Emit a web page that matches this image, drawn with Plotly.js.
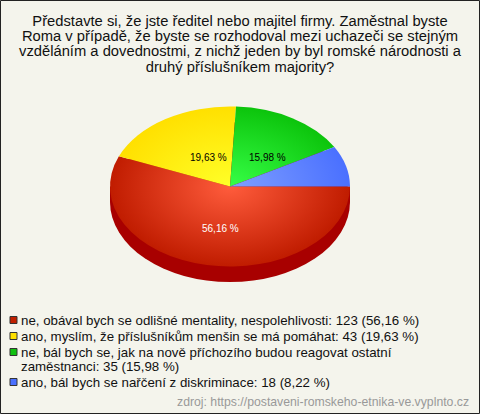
<!DOCTYPE html>
<html><head><meta charset="utf-8">
<script src="https://cdn.plot.ly/plotly-3.0.1.min.js"></script>
<style>html,body{margin:0;padding:0;background:#f4f4ec}#c{width:480px;height:414px}</style>
</head><body><div id="c"></div>
<script>
const titleText = "Představte si, že jste ředitel nebo majitel firmy. Zaměstnal byste<br>Roma v případě, že byste se rozhodoval mezi uchazeči se stejným<br>vzděláním a dovednostmi, z nichž jeden by byl romské národnosti a<br>druhý příslušníkem majority?";
const categories = ["ne, obával bych se odlišné mentality, nespolehlivosti","ano, myslím, že příslušníkům menšin se má pomáhat","ne, bál bych se, jak na nově příchozího budou reagovat ostatní<br>zaměstnanci","ano, bál bych se nařčení z diskriminace"];
const counts = [123,43,35,18];
const percents = ["56,16 %","19,63 %","15,98 %","8,22 %"];
const swatch = ["#c02000","#ffe000","#10c010","#4a70ff"];
const inner = ["#ff5c3c","#ffff28","#36ff46","#7f9fff"];
const outer = ["#c01c00","#ffe000","#0cc40c","#4a70ff"];
const source = "zdroj: https://postaveni-romskeho-etnika-ve.vyplnto.cz";

const W=480,H=414,FONT="Liberation Sans, Arial, sans-serif";
const cx=230,cy=186.5,rx=120,ry=80,depth=15.5;
const px=x=>x/W, py=y=>1-y/H;
const legendY=[312,328,344,374];
const pctPos=[[220,228,"#fff"],[208,158,"#000"],[267,158,"#000"]];
const shapes=[
 {type:"circle",xref:"paper",yref:"paper",layer:"below",x0:px(cx-rx),x1:px(cx+rx),y0:py(cy-ry+depth),y1:py(cy+ry+depth),fillcolor:"#a80000",line:{width:0}},
 {type:"rect",xref:"paper",yref:"paper",layer:"below",x0:px(cx-rx),x1:px(cx+rx),y0:py(cy),y1:py(cy+depth),fillcolor:"#a80000",line:{width:0}},
 {type:"rect",xref:"paper",yref:"paper",layer:"above",x0:px(.5),x1:px(W-.5),y0:py(.5),y1:py(H-.5),line:{color:"#222",width:1}}
];
const annotations=[];
categories.forEach((c,i)=>{
  const y=legendY[i];
  shapes.push({type:"rect",xref:"paper",yref:"paper",x0:px(10),x1:px(17),y0:py(y+4.5),y1:py(y+11.5),fillcolor:swatch[i],line:{color:"#333",width:1}});
  annotations.push({xref:"paper",yref:"paper",x:px(20),y:py(y),xanchor:"left",yanchor:"top",align:"left",showarrow:false,borderpad:0,
    text:c+": "+counts[i]+" ("+percents[i]+")",font:{family:FONT,size:13.3,color:"#111"}});
});
pctPos.forEach((p,i)=>annotations.push({xref:"paper",yref:"paper",x:px(p[0]),y:py(p[1]),showarrow:false,borderpad:0,
  text:percents[i],font:{family:FONT,size:10,color:p[2]}}));
annotations.push({xref:"paper",yref:"paper",x:px(470),y:py(401.5),xanchor:"right",yanchor:"middle",showarrow:false,borderpad:0,
  text:source,font:{family:FONT,size:12.25,color:"#999"}});

Plotly.newPlot("c",[{type:"pie",values:counts,labels:categories,sort:false,direction:"clockwise",rotation:90,
  textinfo:"none",hoverinfo:"none",marker:{colors:swatch,line:{width:0}},
  domain:{x:[px(cx-rx),px(cx+rx)],y:[py(cy+rx),py(cy-rx)]}}],
 {width:W,height:H,margin:{l:0,r:0,t:0,b:0},paper_bgcolor:"#f4f4ec",showlegend:false,
  title:{text:titleText,x:.5,xanchor:"center",y:1-25.5/H,yanchor:"top",font:{family:FONT,size:14.75,color:"#111"}},
  shapes,annotations},{displayModeBar:false,staticPlot:true}).then(gd=>{
  const svg=gd.querySelector(".main-svg");
  const NS="http://www.w3.org/2000/svg";
  const defs=document.createElementNS(NS,"defs");
  inner.forEach((c,i)=>{
    const g=document.createElementNS(NS,"radialGradient");
    g.setAttribute("id","sl"+i);g.setAttribute("gradientUnits","userSpaceOnUse");
    g.setAttribute("cx",cx);g.setAttribute("cy",cy);g.setAttribute("r",rx);
    [[0,c],[1,outer[i]]].forEach(s=>{const st=document.createElementNS(NS,"stop");st.setAttribute("offset",s[0]);st.setAttribute("stop-color",s[1]);g.appendChild(st);});
    defs.appendChild(g);
  });
  svg.appendChild(defs);
  gd.querySelectorAll(".pielayer path.surface").forEach((p,i)=>{p.style.fill="url(#sl"+i+")";});
  gd.querySelector(".pielayer").setAttribute("transform",`translate(0,${cy}) scale(1,${ry/rx}) translate(0,${-cy})`);
  gd.querySelectorAll(".gtitle").forEach(el=>{
    el.querySelectorAll("tspan.line").forEach((t,i)=>t.setAttribute("dy",(i*1.04)+"em"));
  });
  gd.querySelectorAll(".annotation-text-g text, .annotation text").forEach(el=>{
    el.querySelectorAll("tspan.line").forEach((t,i)=>t.setAttribute("dy",(i*1.05)+"em"));
  });
});
</script></body></html>
